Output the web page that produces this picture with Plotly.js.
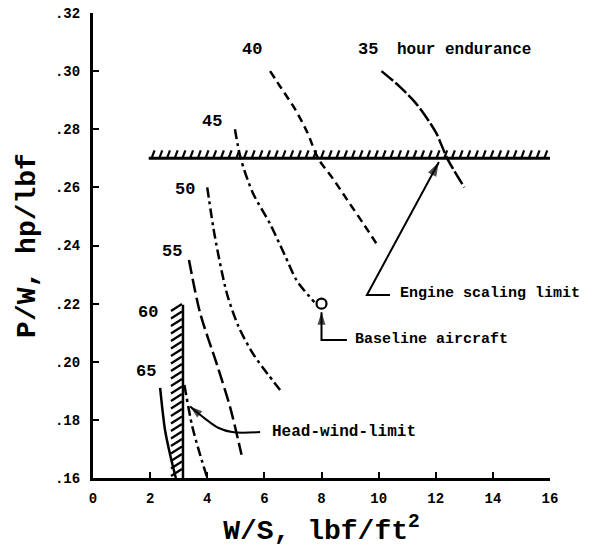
<!DOCTYPE html>
<html><head><meta charset="utf-8">
<script src="https://cdn.plot.ly/plotly-3.0.1.min.js"></script>
<style>body{margin:0;background:#fff}</style>
</head><body><div id="chart" style="width:597px;height:553px"></div>
<script>
// ---- data ----
const xTicks = [0, 2, 4, 6, 8, 10, 12, 14, 16];
const xTickText = ['0', '2', '4', '6', '8', '10', '12', '14', '16'];
const yTicks = [0.16, 0.18, 0.20, 0.22, 0.24, 0.26, 0.28, 0.30, 0.32];
const yTickText = ['.16', '.18', '.20', '.22', '.24', '.26', '.28', '.30', '.32'];

const e35x = [10.1, 10.7, 11.3, 12.0, 12.4, 13.0];
const e35y = [0.300, 0.295, 0.289, 0.279, 0.270, 0.260];
const e40x = [6.2, 6.6, 7.07, 7.5, 7.88, 8.4, 8.9, 9.5, 10.0];
const e40y = [0.300, 0.294, 0.287, 0.279, 0.270, 0.263, 0.2557, 0.247, 0.2395];
const e45x = [4.97, 5.17, 5.6, 6.19, 6.7, 7.13, 7.75];
const e45y = [0.280, 0.270, 0.258, 0.2476, 0.237, 0.228, 0.2205];
const e50x = [4.0, 4.27, 4.69, 5.1, 5.6, 6.1, 6.55];
const e50y = [0.260, 0.2429, 0.2234, 0.212, 0.2028, 0.196, 0.1903];
const e55x = [3.36, 3.75, 4.34, 4.8, 5.2];
const e55y = [0.235, 0.2168, 0.199, 0.1844, 0.168];
const e60x = [3.2, 3.47, 3.75, 4.0];
const e60y = [0.192, 0.178, 0.168, 0.160];
const e65x = [2.35, 2.52, 2.7, 2.9];
const e65y = [0.191, 0.1766, 0.168, 0.160];

const engineLimitY = 0.27;
const engineLimitX = [1.95, 16.1];
const headWindLimitX = 3.15;
const headWindLimitY = [0.16, 0.2196];
const baselineX = [8.0];
const baselineY = [0.22];

// leader lines (text end -> arrow tip)
const engLeadX = [10.4, 9.59, 12.11];
const engLeadY = [0.223, 0.223, 0.2687];
const baseLeadX = [8.89, 8.0, 8.0];
const baseLeadY = [0.2075, 0.2075, 0.2170];
const headLeadX = [5.85, 4.87, 4.4, 3.9, 3.4];
const headLeadY = [0.1758, 0.1758, 0.1772, 0.1806, 0.1846];

// ---- geometry helpers (pixel -> data for decorations) ----
const plotW = 457, plotH = 465;
const xr = [0, 16], yr = [0.16, 0.32];
const pxX = (xr[1] - xr[0]) / plotW;
const pxY = (yr[1] - yr[0]) / plotH;

// hatch marks for the engine scaling limit (above the line)
const hx = [], hy = [];
for (let x = engineLimitX[0] + 0.1; x < engineLimitX[1] - 0.1; x += 7.7 * pxX) {
  hx.push(x, x + 3 * pxX, null);
  hy.push(engineLimitY, engineLimitY + 8 * pxY, null);
}
// hatch marks for the head-wind limit (left of the line)
const vx = [], vy = [];
for (let y = headWindLimitY[0] + 2 * pxY; y < headWindLimitY[1] - 4 * pxY; y += 7.5 * pxY) {
  vx.push(headWindLimitX - 12 * pxX, headWindLimitX - 1 * pxX, null);
  vy.push(y, y + 7 * pxY, null);
}

const black = '#000';
const lw = 2.5;
const dashDot = '10px,4px,3px,4px';
function curve(x, y, dash) {
  return {x: x, y: y, mode: 'lines', type: 'scatter', hoverinfo: 'skip',
    line: {color: black, width: lw, dash: dash, shape: 'spline', smoothing: 0.8}};
}
function leader(x, y, shape, headSize) {
  const sizes = x.map((_, i) => (i === x.length - 1 ? headSize : 0));
  return {x: x, y: y, mode: 'lines+markers', hoverinfo: 'skip',
    line: {color: black, width: 2, shape: shape || 'linear'},
    marker: {symbol: 'arrow', angleref: 'previous', size: sizes, color: black, line: {width: 0}}};
}

const traces = [
  curve(e35x, e35y, '15px,3px'),
  curve(e40x, e40y, '8px,5px'),
  curve(e45x, e45y, dashDot),
  curve(e50x, e50y, dashDot),
  curve(e55x, e55y, '14px,5px'),
  curve(e60x, e60y, dashDot),
  curve(e65x, e65y, 'solid'),
  {x: engineLimitX, y: [engineLimitY, engineLimitY], mode: 'lines', line: {color: black, width: 3}},
  {x: hx, y: hy, mode: 'lines', line: {color: black, width: 2.2}},
  {x: [headWindLimitX, headWindLimitX], y: headWindLimitY, mode: 'lines', line: {color: black, width: 2.5}},
  {x: vx, y: vy, mode: 'lines', line: {color: black, width: 2.2}},
  {x: baselineX, y: baselineY, mode: 'markers',
    marker: {symbol: 'circle-open', size: 10, color: black, line: {width: 2.2, color: black}}},
  leader(engLeadX, engLeadY, 'linear', 15),
  leader(baseLeadX, baseLeadY, 'linear', 13),
  leader(headLeadX, headLeadY, 'spline', 13)
];

const tf = {family: 'Liberation Mono', size: 16, color: black, weight: 'bold'};
function lab(text, x, y, anchor, size) {
  return {x: x, y: y, text: text, showarrow: false, xanchor: anchor || 'center',
    font: Object.assign({}, tf, size ? {size: size} : {})};
}

const annotations = [
  lab('35', 9.63, 0.3073, 'center', 17),
  lab('hour endurance', 10.57, 0.3073, 'left', 16),
  lab('40', 5.57, 0.3073, 'center', 17),
  lab('45', 4.17, 0.2825, 'center', 17),
  lab('50', 3.22, 0.2594, 'center', 17),
  lab('55', 2.77, 0.2378, 'center', 17),
  lab('60', 1.93, 0.2171, 'center', 17),
  lab('65', 1.86, 0.1965, 'center', 17),
  lab('Engine scaling limit', 10.68, 0.2236, 'left', 15),
  lab('Baseline aircraft', 9.1, 0.2075, 'left', 15),
  lab('Head-wind-limit', 6.2, 0.1758, 'left', 16)
];

const axisFont = {family: 'Liberation Mono', size: 14, color: black, weight: 'bold'};
const layout = {
  width: 597, height: 553,
  margin: {l: 93, r: 47, t: 13, b: 75},
  paper_bgcolor: '#fff', plot_bgcolor: '#fff',
  showlegend: false,
  xaxis: {range: xr, tickvals: xTicks, ticktext: xTickText, ticks: 'inside', ticklen: 6, tickwidth: 2,
    tickcolor: black, showline: true, linewidth: 3, linecolor: black, showgrid: false, zeroline: false,
    tickfont: axisFont, ticklabelstandoff: 5,
    title: {text: 'W/S, lbf/ft<sup>2</sup>', standoff: 14,
      font: {family: 'Liberation Mono', size: 28, color: black, weight: 'bold'}}},
  yaxis: {range: yr, tickvals: yTicks, ticktext: yTickText, ticks: 'inside', ticklen: 6, tickwidth: 2,
    tickcolor: black, showline: true, linewidth: 3, linecolor: black, showgrid: false, zeroline: false,
    tickfont: axisFont, ticklabelstandoff: 7,
    title: {text: 'P/W, hp/lbf', standoff: 12,
      font: {family: 'Liberation Mono', size: 28, color: black, weight: 'bold'}}},
  annotations: annotations
};

Plotly.newPlot('chart', traces, layout, {staticPlot: true});
</script></body></html>
